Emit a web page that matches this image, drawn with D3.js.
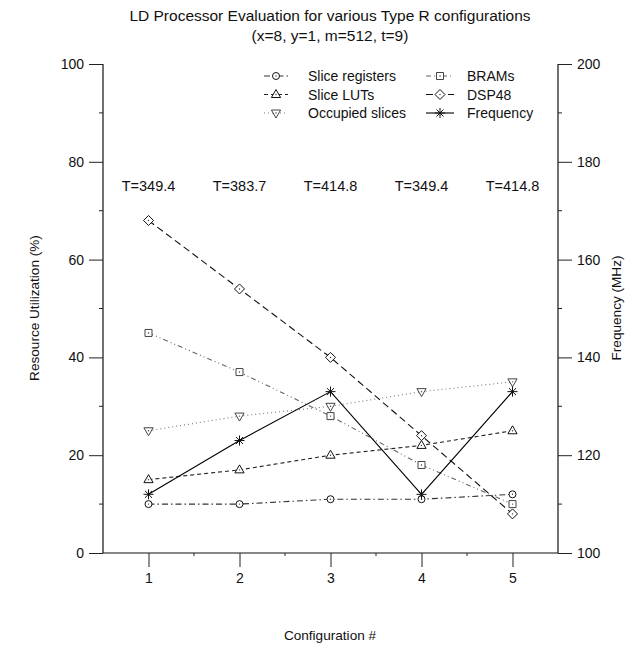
<!DOCTYPE html>
<html>
<head>
<meta charset="utf-8">
<script src="https://cdn.jsdelivr.net/npm/d3@7"></script>
<style>
  body { margin: 0; background: #fff; }
  text { font-family: "Liberation Sans", Arial, Helvetica, sans-serif; fill: #111; }
</style>
</head>
<body>
<svg id="chart" width="639" height="648"></svg>
<script>
// chart values
const configs = [1, 2, 3, 4, 5];
const periodLabels = ['T=349.4', 'T=383.7', 'T=414.8', 'T=349.4', 'T=414.8'];
const sliceRegisters = [10, 10, 11, 11, 12];
const sliceLUTs = [15, 17, 20, 22, 25];
const occupiedSlices = [25, 28, 30, 33, 35];
const brams = [45, 37, 28, 18, 10];
const dsp48 = [68, 54, 40, 24, 8];
const frequency = [112, 123, 133, 112, 133];
const leftTicks = [0, 20, 40, 60, 80, 100];
const rightTicks = [100, 120, 140, 160, 180, 200];

const series = [
  { name: 'Slice registers', values: sliceRegisters, axis: 'left', marker: 'circle', dash: '6,3,1.5,3', color: '#333', col: 0, row: 0 },
  { name: 'Slice LUTs', values: sliceLUTs, axis: 'left', marker: 'triangle', dash: '4,3', color: '#222', col: 0, row: 1 },
  { name: 'Occupied slices', values: occupiedSlices, axis: 'left', marker: 'triangleDown', dash: '1,3', color: '#777', col: 0, row: 2 },
  { name: 'BRAMs', values: brams, axis: 'left', marker: 'square', dash: '5,3,1,3,1,3', color: '#666', col: 1, row: 0 },
  { name: 'DSP48', values: dsp48, axis: 'left', marker: 'diamond', dash: '7,4', color: '#111', col: 1, row: 1 },
  { name: 'Frequency', values: frequency, axis: 'right', marker: 'star', dash: null, color: '#000', col: 1, row: 2 }
];

const svg = d3.select('#chart');
const plot = { left: 103, right: 558, top: 64, bottom: 553 };

const x = d3.scaleLinear().domain([0.5, 5.5]).range([plot.left, plot.right]);
const yLeft = d3.scaleLinear().domain([0, 100]).range([plot.bottom, plot.top]);
const yRight = d3.scaleLinear().domain([100, 200]).range([plot.bottom, plot.top]);

// marker shapes, unfilled with a small centre dot like gnuplot
function markerPath(type) {
  const p = d3.path();
  if (type === 'circle') {
    p.moveTo(3.5, 0); p.arc(0, 0, 3.5, 0, 2 * Math.PI);
  } else if (type === 'triangle') {
    p.moveTo(0, -5); p.lineTo(4.6, 3); p.lineTo(-4.6, 3); p.closePath();
  } else if (type === 'triangleDown') {
    p.moveTo(0, 5); p.lineTo(4.6, -3); p.lineTo(-4.6, -3); p.closePath();
  } else if (type === 'square') {
    p.rect(-3.5, -3.5, 7, 7);
  } else if (type === 'diamond') {
    p.moveTo(0, -5); p.lineTo(5, 0); p.lineTo(0, 5); p.lineTo(-5, 0); p.closePath();
  } else if (type === 'star') {
    const r = 5, d = r * Math.SQRT1_2;
    p.moveTo(-r, 0); p.lineTo(r, 0);
    p.moveTo(0, -r); p.lineTo(0, r);
    p.moveTo(-d, -d); p.lineTo(d, d);
    p.moveTo(-d, d); p.lineTo(d, -d);
  }
  return p.toString();
}

function drawMarker(g, type, color) {
  g.append('path')
    .attr('d', markerPath(type))
    .attr('fill', type === 'star' ? 'none' : '#fff')
    .attr('stroke', color === '#777' || color === '#666' ? '#444' : '#111')
    .attr('stroke-width', 1);
  if (type !== 'star') {
    g.append('circle').attr('r', 0.7).attr('fill', '#333');
  }
}

// axes
const xAxis = d3.axisBottom(x).tickValues(configs).tickFormat(d3.format('d')).tickSize(14).tickPadding(6);
const gx = svg.append('g').attr('transform', `translate(0,${plot.bottom})`).call(xAxis);
gx.append('g').selectAll('line')
  .data([1.5, 2.5, 3.5, 4.5])
  .enter().append('line')
  .attr('x1', d => x(d)).attr('x2', d => x(d))
  .attr('y1', 0).attr('y2', 3)
  .attr('stroke', '#222');

const gl = svg.append('g').attr('transform', `translate(${plot.left},0)`)
  .call(d3.axisLeft(yLeft).tickValues(leftTicks).tickSize(14).tickPadding(5));
gl.append('g').selectAll('line')
  .data([10, 30, 50, 70, 90])
  .enter().append('line')
  .attr('y1', d => yLeft(d)).attr('y2', d => yLeft(d))
  .attr('x1', 0).attr('x2', -4)
  .attr('stroke', '#222');

const gr = svg.append('g').attr('transform', `translate(${plot.right},0)`)
  .call(d3.axisRight(yRight).tickValues(rightTicks).tickSize(14).tickPadding(5));
gr.append('g').selectAll('line')
  .data([110, 130, 150, 170, 190])
  .enter().append('line')
  .attr('y1', d => yRight(d)).attr('y2', d => yRight(d))
  .attr('x1', 0).attr('x2', 4)
  .attr('stroke', '#222');

svg.selectAll('.domain').attr('stroke', '#111').attr('stroke-width', 1.2);
svg.selectAll('.tick line').attr('stroke', '#222');
svg.selectAll('.tick text').attr('font-size', 14).attr('fill', '#111')
  .style('font-family', '"Liberation Sans", Arial, sans-serif');

// axis lines only between the two y axes, no outer ticks
gx.select('.domain').attr('d', `M${plot.left},0H${plot.right}`);
gl.select('.domain').attr('d', `M0,${plot.top}V${plot.bottom}`);
gr.select('.domain').attr('d', `M0,${plot.top}V${plot.bottom}`);

// titles
svg.append('text').attr('x', 330).attr('y', 21).attr('text-anchor', 'middle').attr('font-size', 15.5)
  .text('LD Processor Evaluation for various Type R configurations');
svg.append('text').attr('x', 330).attr('y', 41).attr('text-anchor', 'middle').attr('font-size', 15.5)
  .text('(x=8, y=1, m=512, t=9)');

svg.append('text').attr('transform', 'translate(39,308) rotate(-90)')
  .attr('text-anchor', 'middle').attr('font-size', 13.6)
  .text('Resource Utilization (%)');
svg.append('text').attr('transform', 'translate(621,308) rotate(-90)')
  .attr('text-anchor', 'middle').attr('font-size', 13.6)
  .text('Frequency (MHz)');
svg.append('text').attr('x', 330).attr('y', 640).attr('text-anchor', 'middle').attr('font-size', 13.6)
  .text('Configuration #');

// period labels above each configuration
svg.append('g').selectAll('text')
  .data(periodLabels)
  .enter().append('text')
  .attr('x', (d, i) => x(configs[i]))
  .attr('y', 191)
  .attr('text-anchor', 'middle')
  .attr('font-size', 14.5)
  .text(d => d);

// series lines and markers
series.forEach(s => {
  const yScale = s.axis === 'left' ? yLeft : yRight;
  const line = d3.line().x((d, i) => x(configs[i])).y(d => yScale(d));
  svg.append('path')
    .datum(s.values)
    .attr('d', line)
    .attr('fill', 'none')
    .attr('stroke', s.color)
    .attr('stroke-width', 1.1)
    .attr('stroke-dasharray', s.dash);

  svg.append('g').selectAll('g')
    .data(s.values)
    .enter().append('g')
    .attr('transform', (d, i) => `translate(${x(configs[i])},${yScale(d)})`)
    .each(function() { drawMarker(d3.select(this), s.marker, s.color); });
});

// legend
const legendCols = [{ x0: 264, x1: 288, text: 308 }, { x0: 426, x1: 454, text: 467 }];
const legendRows = [76, 94.5, 113];
const legend = svg.append('g');
series.forEach(s => {
  const c = legendCols[s.col];
  const y = legendRows[s.row];
  legend.append('line')
    .attr('x1', c.x0).attr('x2', c.x1).attr('y1', y).attr('y2', y)
    .attr('stroke', s.color).attr('stroke-width', 1.1)
    .attr('stroke-dasharray', s.dash);
  const m = legend.append('g').attr('transform', `translate(${(c.x0 + c.x1) / 2},${y})`);
  drawMarker(m, s.marker, s.color);
  legend.append('text')
    .attr('x', c.text).attr('y', y + 5)
    .attr('font-size', 14)
    .text(s.name);
});
</script>
</body>
</html>
